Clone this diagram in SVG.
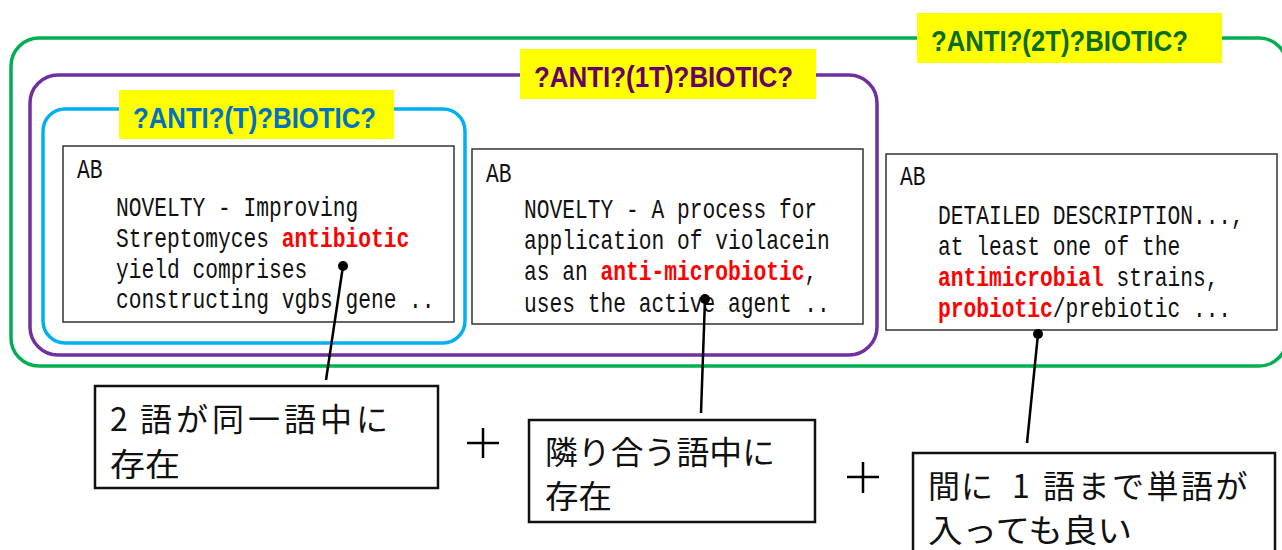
<svg xmlns="http://www.w3.org/2000/svg" width="1282" height="550" viewBox="0 0 1282 550">
<style>
.frame{fill:none;stroke-width:3.5}
.lbl{font-family:"Liberation Sans",Arial,sans-serif;font-weight:bold;font-size:29px}
.box{fill:#fff;stroke:#333;stroke-width:1.5}
.mono{font-family:"Liberation Mono","DejaVu Sans Mono",monospace;font-size:27px;fill:#111}
.hl{fill:#ff0000;font-weight:bold}
.jp{font-family:"Noto Sans CJK JP","Noto Sans",sans-serif;font-size:32px;fill:#111}
.note{fill:#fff;stroke:#111;stroke-width:2.5}
.conn{stroke:#000;stroke-width:2.5;fill:none}
</style>
<rect width="1282" height="550" fill="#fff"/>
<g id="group-2T">
<rect class="frame" x="11" y="38" width="1276" height="328" rx="28" stroke="#00B050"/>
<rect x="917" y="13" width="305" height="50" fill="#ffff00"/>
<text class="lbl" x="931" y="51" textLength="257" lengthAdjust="spacingAndGlyphs" fill="#0b6b1e">?ANTI?(2T)?BIOTIC?</text>
</g>
<g id="group-1T">
<rect class="frame" x="30" y="75" width="847" height="280" rx="28" stroke="#7030A0"/>
<rect x="520" y="49" width="296" height="50" fill="#ffff00"/>
<text class="lbl" x="534" y="87" textLength="259" lengthAdjust="spacingAndGlyphs" fill="#660066">?ANTI?(1T)?BIOTIC?</text>
</g>
<g id="group-T">
<rect class="frame" x="43" y="109" width="422" height="234" rx="22" stroke="#00B0F0"/>
<rect x="119" y="90" width="275" height="49" fill="#ffff00"/>
<text class="lbl" x="133" y="128" textLength="243" lengthAdjust="spacingAndGlyphs" fill="#0070C0">?ANTI?(T)?BIOTIC?</text>
</g>
<g id="abstract-1">
<rect class="box" x="63" y="146" width="391" height="176"/>
<g class="mono">
<text transform="translate(77,178) scale(0.787,1)">AB</text>
<text transform="translate(116,216) scale(0.787,1)">NOVELTY - Improving</text>
<text transform="translate(116,247) scale(0.787,1)">Streptomyces <tspan class="hl">antibiotic</tspan></text>
<text transform="translate(116,278) scale(0.787,1)">yield comprises</text>
<text transform="translate(116,308) scale(0.787,1)">constructing vgbs gene ..</text>
</g>
</g>
<g id="abstract-2">
<rect class="box" x="472" y="149" width="391" height="175"/>
<g class="mono">
<text transform="translate(486,182) scale(0.787,1)">AB</text>
<text transform="translate(524,218) scale(0.787,1)">NOVELTY - A process for</text>
<text transform="translate(524,249) scale(0.787,1)">application of violacein</text>
<text transform="translate(524,280) scale(0.787,1)">as an <tspan class="hl">anti-microbiotic</tspan>,</text>
<text transform="translate(524,312) scale(0.787,1)">uses the active agent ..</text>
</g>
</g>
<g id="abstract-3">
<rect class="box" x="886" y="154" width="391" height="176"/>
<g class="mono">
<text transform="translate(900,185) scale(0.787,1)">AB</text>
<text transform="translate(938,224) scale(0.787,1)">DETAILED DESCRIPTION...,</text>
<text transform="translate(938,255) scale(0.787,1)">at least one of the</text>
<text transform="translate(938,286) scale(0.787,1)"><tspan class="hl">antimicrobial</tspan> strains,</text>
<text transform="translate(938,317) scale(0.787,1)"><tspan class="hl">probiotic</tspan>/prebiotic ...</text>
</g>
</g>
<g id="connectors">
<line class="conn" x1="343" y1="266" x2="326" y2="380"/>
<circle cx="343" cy="266" r="5" fill="#000"/>
<line class="conn" x1="705" y1="299" x2="701" y2="413"/>
<circle cx="705" cy="299" r="5" fill="#000"/>
<line class="conn" x1="1038" y1="334" x2="1027" y2="443"/>
<circle cx="1038" cy="334" r="5" fill="#000"/>
</g>
<g id="note-1">
<rect class="note" x="95" y="386" width="343" height="102"/>
<text class="jp" y="431"><tspan x="110">2 </tspan><tspan x="140" letter-spacing="4">語が同一語中に</tspan></text>
<text class="jp" x="110" y="476" textLength="70" lengthAdjust="spacingAndGlyphs">存在</text>
</g>
<g id="plus-1">
<path d="M467 443H499M483 428V458" stroke="#000" stroke-width="2.5"/>
</g>
<g id="note-2">
<rect class="note" x="529" y="420" width="286" height="102"/>
<text class="jp" x="545" y="464" textLength="230" lengthAdjust="spacingAndGlyphs">隣り合う語中に</text>
<text class="jp" x="545" y="508" textLength="67" lengthAdjust="spacingAndGlyphs">存在</text>
</g>
<g id="plus-2">
<path d="M847 477H879M863 462V493" stroke="#000" stroke-width="2.5"/>
</g>
<g id="note-3">
<rect class="note" x="913" y="453" width="362" height="110"/>
<text class="jp" y="498"><tspan x="928" letter-spacing="1">間に </tspan><tspan x="1012">1 </tspan><tspan x="1043" letter-spacing="2.5">語まで単語が</tspan></text>
<text class="jp" x="928" y="542" textLength="204" lengthAdjust="spacingAndGlyphs">入っても良い</text>
</g>
</svg>
